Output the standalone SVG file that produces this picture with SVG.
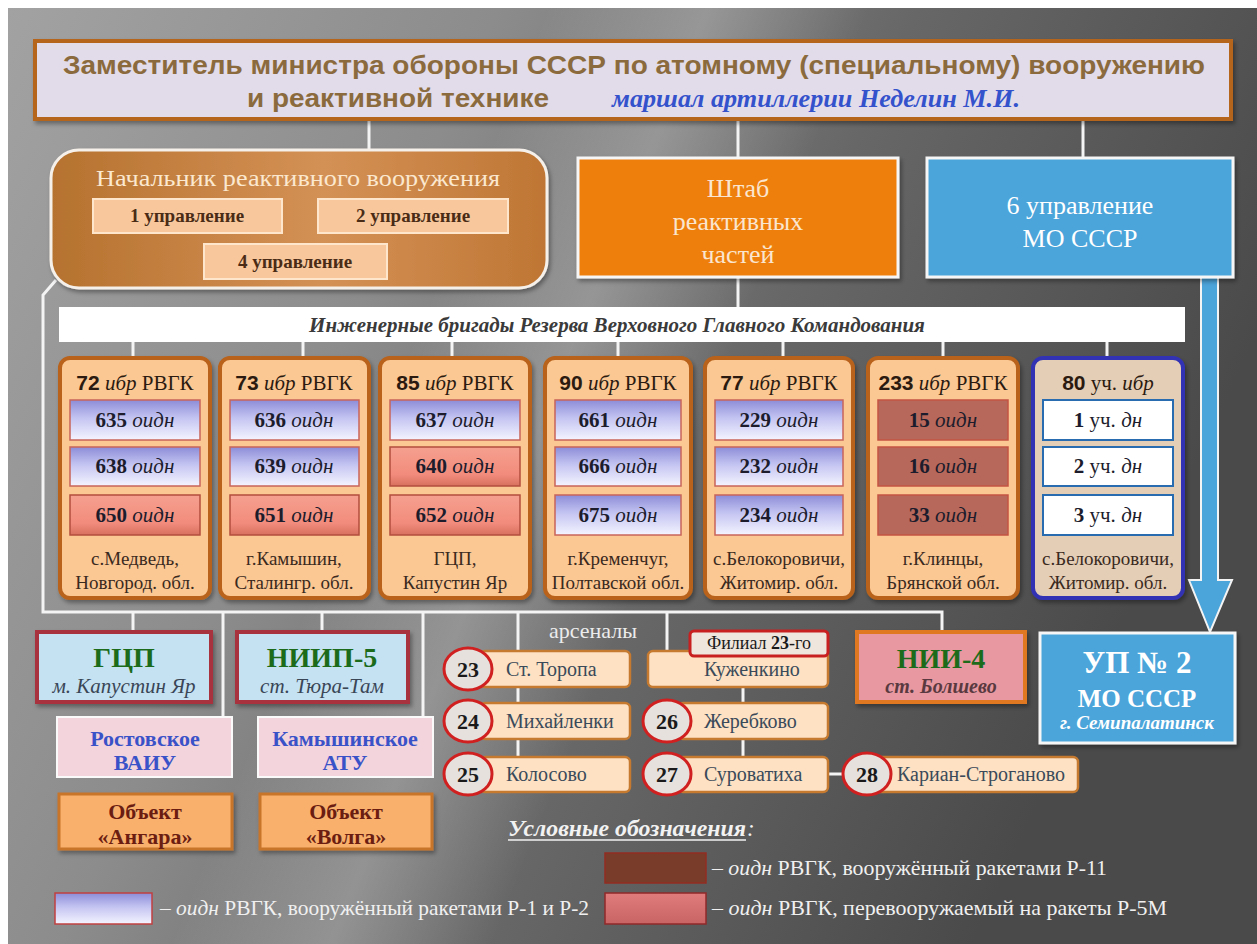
<svg xmlns="http://www.w3.org/2000/svg" width="1257" height="944" viewBox="0 0 1257 944">
<defs>
<linearGradient id="bg" x1="0" y1="0" x2="1" y2="0.35">
<stop offset="0" stop-color="#a2a2a2"/><stop offset="0.35" stop-color="#8c8c8c"/><stop offset="0.65" stop-color="#676767"/><stop offset="1" stop-color="#4a4a4a"/>
</linearGradient>
<linearGradient id="band" gradientUnits="userSpaceOnUse" x1="361" y1="469" x2="639" y2="581">
<stop offset="0" stop-color="#fff" stop-opacity="0"/><stop offset="0.5" stop-color="#fff" stop-opacity="0.22"/><stop offset="1" stop-color="#fff" stop-opacity="0"/>
</linearGradient>
<linearGradient id="gBrown" x1="0" y1="0" x2="1" y2="0">
<stop offset="0" stop-color="#b5722f"/><stop offset="0.55" stop-color="#d49155"/><stop offset="1" stop-color="#bf7634"/>
</linearGradient>
<linearGradient id="gBlue" x1="0" y1="0" x2="0" y2="1">
<stop offset="0" stop-color="#8c8cd8"/><stop offset="0.45" stop-color="#c4c4f2"/><stop offset="1" stop-color="#f4f4ff"/>
</linearGradient>
<linearGradient id="gSalmon" x1="0" y1="0" x2="0" y2="1">
<stop offset="0" stop-color="#f6a090"/><stop offset="0.7" stop-color="#f28c7c"/><stop offset="1" stop-color="#d8705e"/>
</linearGradient>
<linearGradient id="gLegS" x1="0" y1="0" x2="0" y2="1">
<stop offset="0" stop-color="#e07c7c"/><stop offset="1" stop-color="#c86464"/>
</linearGradient>
<filter id="sh" x="-10%" y="-10%" width="125%" height="135%">
<feDropShadow dx="2" dy="3" stdDeviation="2" flood-color="#000" flood-opacity="0.35"/>
</filter>
<style>
.ln{stroke:#f4f4f4;stroke-width:3;fill:none}
.serif{font-family:"Liberation Serif","DejaVu Serif",serif}
.sans{font-family:"Liberation Sans","DejaVu Sans",sans-serif}
.b{font-weight:bold}
.i{font-style:italic}
.n{font-weight:normal;font-style:normal}
.brig{fill:#fbc793;stroke:#b8621a;stroke-width:4}
.brig80{fill:#e4ceb6;stroke:#3232b4;stroke-width:4}
.sb{fill:url(#gBlue);stroke:#c8645a;stroke-width:1.5}
.ss{fill:url(#gSalmon);stroke:#b24e3e;stroke-width:1.5}
.sd{fill:#b8685a;stroke:#c45444;stroke-width:1.5}
.sw{fill:#fff;stroke:#2a6cb0;stroke-width:2}
.tt{font-size:21px;fill:#2a1a10;text-anchor:middle}
.ts{font-size:21px;fill:#1c1c2c;text-anchor:middle}
.tl{font-size:19px;fill:#3a2a1e;text-anchor:middle}
.upr{fill:#f8c89c;stroke:#fde6cc;stroke-width:2}
.tupr{font-size:19px;font-weight:bold;fill:#4a2c16;text-anchor:middle}
.arb{fill:#fde1c2;stroke:#c67a30;stroke-width:2.5}
.arc{fill:#e6e1dc;stroke:#d02020;stroke-width:3}
.arn{font-size:22px;font-weight:bold;fill:#1a1a1a;text-anchor:middle}
.art{font-size:20px;fill:#3a4a5a}
.leg{font-size:21px;fill:#f0f0f0}
</style>
</defs>

<rect x="0" y="0" width="1257" height="944" fill="#fff"/>
<rect x="8" y="8" width="1249" height="936" fill="url(#bg)"/>
<rect x="8" y="8" width="1249" height="936" fill="url(#band)"/>

<g id="connectors">
<path class="ln" d="M369 119 V150 M738 119 V158 M1083 119 V158 M738 277 V307"/>
<path class="ln" d="M133 342 V358 M303 342 V358 M452 342 V358 M618 342 V358 M783 342 V358 M943 342 V358 M1107 342 V358"/>
<path class="ln" d="M56 280 L43 295 V612 H942 V632"/>
<path class="ln" d="M133 612 V632 M223 612 V717 M322 612 V632 M423 612 V717 M518 612 V757 M667 612 V651 M743 687 V757 M828 774 H845"/>
<path d="M1201 277 V580 H1189 L1210 632 L1232 580 H1218 V277" fill="#4ba4da" stroke="#f4f4f4" stroke-width="2"/>
</g>

<g id="header">
<rect x="35" y="41" width="1196" height="78" fill="#e2dcea" stroke="#b5651d" stroke-width="4" filter="url(#sh)"/>
<text class="sans b" x="634" y="74" font-size="26" fill="#8b6b3d" text-anchor="middle" textLength="1142" lengthAdjust="spacingAndGlyphs">Заместитель министра обороны СССР по атомному (специальному) вооружению</text>
<text class="sans b" x="247" y="107" font-size="26" fill="#8b6b3d" textLength="302" lengthAdjust="spacingAndGlyphs">и реактивной технике</text>
<text class="serif b i" x="612" y="107" font-size="25" fill="#3452cc" textLength="408" lengthAdjust="spacingAndGlyphs">маршал артиллерии Неделин М.И.</text>
</g>

<g id="nach">
<rect x="51" y="150" width="496" height="138" rx="28" fill="url(#gBrown)" stroke="#f6f0ea" stroke-width="3" filter="url(#sh)"/>
<text class="serif" x="298" y="186" font-size="24" fill="#fbe8cf" text-anchor="middle" textLength="404" lengthAdjust="spacingAndGlyphs">Начальник реактивного вооружения</text>
<rect class="upr" x="93" y="199" width="189" height="34"/>
<text class="serif tupr" x="187" y="222">1 управление</text>
<rect class="upr" x="318" y="199" width="190" height="34"/>
<text class="serif tupr" x="413" y="222">2 управление</text>
<rect class="upr" x="204" y="244" width="183" height="35"/>
<text class="serif tupr" x="295" y="268">4 управление</text>
</g>

<g id="shtab">
<rect x="578" y="158" width="320" height="119" fill="#ef7f0e" stroke="#f6f6f6" stroke-width="3" filter="url(#sh)"/>
<text class="serif" font-size="26" fill="#fae6d0" text-anchor="middle"><tspan x="738" y="197">Штаб</tspan><tspan x="738" y="230">реактивных</tspan><tspan x="738" y="263">частей</tspan></text>
</g>

<g id="upr6">
<rect x="927" y="158" width="306" height="119" fill="#4ba4da" stroke="#f6f6f6" stroke-width="3" filter="url(#sh)"/>
<text class="serif" font-size="26" fill="#fff" text-anchor="middle"><tspan x="1080" y="214">6 управление</tspan><tspan x="1080" y="247">МО СССР</tspan></text>
</g>

<g id="ibr-bar">
<rect x="59" y="307" width="1126" height="35" fill="#fff"/>
<text class="serif b i" x="617" y="332" font-size="21" fill="#3a3a3a" text-anchor="middle">Инженерные бригады Резерва Верховного Главного Командования</text>
</g>

<g id="ibr72">
<rect class="brig" x="60" y="358" width="150" height="240" rx="10" filter="url(#sh)"/>
<text class="serif tt" x="135" y="390"><tspan class="sans b">72</tspan> <tspan class="i">ибр</tspan> РВГК</text>
<rect class="sb" x="70" y="400" width="130" height="40"/><text class="serif ts" x="135" y="427"><tspan class="b">635</tspan> <tspan class="i">оидн</tspan></text>
<rect class="sb" x="70" y="447" width="130" height="39"/><text class="serif ts" x="135" y="473"><tspan class="b">638</tspan> <tspan class="i">оидн</tspan></text>
<rect class="ss" x="70" y="495" width="130" height="40"/><text class="serif ts" x="135" y="522"><tspan class="b">650</tspan> <tspan class="i">оидн</tspan></text>
<text class="serif tl"><tspan x="135" y="565">с.Медведь,</tspan><tspan x="135" y="589">Новгород. обл.</tspan></text>
</g>

<g id="ibr73">
<rect class="brig" x="220" y="358" width="149" height="240" rx="10" filter="url(#sh)"/>
<text class="serif tt" x="294" y="390"><tspan class="sans b">73</tspan> <tspan class="i">ибр</tspan> РВГК</text>
<rect class="sb" x="230" y="400" width="129" height="40"/><text class="serif ts" x="294" y="427"><tspan class="b">636</tspan> <tspan class="i">оидн</tspan></text>
<rect class="sb" x="230" y="447" width="129" height="39"/><text class="serif ts" x="294" y="473"><tspan class="b">639</tspan> <tspan class="i">оидн</tspan></text>
<rect class="ss" x="230" y="495" width="129" height="40"/><text class="serif ts" x="294" y="522"><tspan class="b">651</tspan> <tspan class="i">оидн</tspan></text>
<text class="serif tl"><tspan x="294" y="565">г.Камышин,</tspan><tspan x="294" y="589">Сталингр. обл.</tspan></text>
</g>

<g id="ibr85">
<rect class="brig" x="380" y="358" width="150" height="240" rx="10" filter="url(#sh)"/>
<text class="serif tt" x="455" y="390"><tspan class="sans b">85</tspan> <tspan class="i">ибр</tspan> РВГК</text>
<rect class="sb" x="390" y="400" width="130" height="40"/><text class="serif ts" x="455" y="427"><tspan class="b">637</tspan> <tspan class="i">оидн</tspan></text>
<rect class="ss" x="390" y="447" width="130" height="39"/><text class="serif ts" x="455" y="473"><tspan class="b">640</tspan> <tspan class="i">оидн</tspan></text>
<rect class="ss" x="390" y="495" width="130" height="40"/><text class="serif ts" x="455" y="522"><tspan class="b">652</tspan> <tspan class="i">оидн</tspan></text>
<text class="serif tl"><tspan x="455" y="565">ГЦП,</tspan><tspan x="455" y="589">Капустин Яр</tspan></text>
</g>

<g id="ibr90">
<rect class="brig" x="545" y="358" width="146" height="240" rx="10" filter="url(#sh)"/>
<text class="serif tt" x="618" y="390"><tspan class="sans b">90</tspan> <tspan class="i">ибр</tspan> РВГК</text>
<rect class="sb" x="555" y="400" width="126" height="40"/><text class="serif ts" x="618" y="427"><tspan class="b">661</tspan> <tspan class="i">оидн</tspan></text>
<rect class="sb" x="555" y="447" width="126" height="39"/><text class="serif ts" x="618" y="473"><tspan class="b">666</tspan> <tspan class="i">оидн</tspan></text>
<rect class="sb" x="555" y="495" width="126" height="40"/><text class="serif ts" x="618" y="522"><tspan class="b">675</tspan> <tspan class="i">оидн</tspan></text>
<text class="serif tl"><tspan x="618" y="565">г.Кременчуг,</tspan><tspan x="618" y="589">Полтавской обл.</tspan></text>
</g>

<g id="ibr77">
<rect class="brig" x="705" y="358" width="148" height="240" rx="10" filter="url(#sh)"/>
<text class="serif tt" x="779" y="390"><tspan class="sans b">77</tspan> <tspan class="i">ибр</tspan> РВГК</text>
<rect class="sb" x="715" y="400" width="128" height="40"/><text class="serif ts" x="779" y="427"><tspan class="b">229</tspan> <tspan class="i">оидн</tspan></text>
<rect class="sb" x="715" y="447" width="128" height="39"/><text class="serif ts" x="779" y="473"><tspan class="b">232</tspan> <tspan class="i">оидн</tspan></text>
<rect class="sb" x="715" y="495" width="128" height="40"/><text class="serif ts" x="779" y="522"><tspan class="b">234</tspan> <tspan class="i">оидн</tspan></text>
<text class="serif tl"><tspan x="779" y="565">с.Белокоровичи,</tspan><tspan x="779" y="589">Житомир. обл.</tspan></text>
</g>

<g id="ibr233">
<rect class="brig" x="868" y="358" width="150" height="240" rx="10" filter="url(#sh)"/>
<text class="serif tt" x="943" y="390"><tspan class="sans b">233</tspan> <tspan class="i">ибр</tspan> РВГК</text>
<rect class="sd" x="878" y="400" width="130" height="40"/><text class="serif ts" x="943" y="427"><tspan class="b">15</tspan> <tspan class="i">оидн</tspan></text>
<rect class="sd" x="878" y="447" width="130" height="39"/><text class="serif ts" x="943" y="473"><tspan class="b">16</tspan> <tspan class="i">оидн</tspan></text>
<rect class="sd" x="878" y="495" width="130" height="40"/><text class="serif ts" x="943" y="522"><tspan class="b">33</tspan> <tspan class="i">оидн</tspan></text>
<text class="serif tl"><tspan x="943" y="565">г.Клинцы,</tspan><tspan x="943" y="589">Брянской обл.</tspan></text>
</g>

<g id="ibr80">
<rect class="brig80" x="1033" y="358" width="150" height="240" rx="10" filter="url(#sh)"/>
<text class="serif tt" x="1108" y="390"><tspan class="sans b">80</tspan> уч. <tspan class="i">ибр</tspan></text>
<rect class="sw" x="1043" y="400" width="130" height="40"/><text class="serif ts" x="1108" y="427"><tspan class="b">1</tspan> уч. <tspan class="i">дн</tspan></text>
<rect class="sw" x="1043" y="447" width="130" height="39"/><text class="serif ts" x="1108" y="473"><tspan class="b">2</tspan> уч. <tspan class="i">дн</tspan></text>
<rect class="sw" x="1043" y="495" width="130" height="40"/><text class="serif ts" x="1108" y="522"><tspan class="b">3</tspan> уч. <tspan class="i">дн</tspan></text>
<text class="serif tl"><tspan x="1108" y="565">с.Белокоровичи,</tspan><tspan x="1108" y="589">Житомир. обл.</tspan></text>
</g>

<g id="gcp">
<rect x="37" y="632" width="174" height="70" fill="#c4e2f2" stroke="#a8323c" stroke-width="4" filter="url(#sh)"/>
<text class="serif b" x="124" y="667" font-size="28" fill="#1b6b1b" text-anchor="middle">ГЦП</text>
<text class="serif i" x="124" y="693" font-size="21" fill="#3a4656" text-anchor="middle">м. Капустин Яр</text>
</g>

<g id="niip5">
<rect x="237" y="632" width="171" height="70" fill="#c4e2f2" stroke="#a8323c" stroke-width="4" filter="url(#sh)"/>
<text class="serif b" x="322" y="667" font-size="28" fill="#1b6b1b" text-anchor="middle">НИИП-5</text>
<text class="serif i" x="322" y="693" font-size="21" fill="#3a4656" text-anchor="middle">ст. Тюра-Там</text>
</g>

<g id="rostov">
<rect x="57" y="717" width="175" height="60" fill="#f3d3dc" stroke="#fafafa" stroke-width="2"/>
<text class="serif b" font-size="22" fill="#3a52c8" text-anchor="middle"><tspan x="145" y="746">Ростовское</tspan><tspan x="145" y="770">ВАИУ</tspan></text>
</g>

<g id="kamysh">
<rect x="258" y="717" width="175" height="60" fill="#f3d3dc" stroke="#fafafa" stroke-width="2"/>
<text class="serif b" font-size="22" fill="#3a52c8" text-anchor="middle"><tspan x="345" y="746">Камышинское</tspan><tspan x="345" y="770">АТУ</tspan></text>
</g>

<g id="angara">
<rect x="59" y="794" width="173" height="55" fill="#f8b06c" stroke="#c8742c" stroke-width="3" filter="url(#sh)"/>
<text class="serif b" font-size="22" fill="#6b1d12" text-anchor="middle"><tspan x="145" y="819">Объект</tspan><tspan x="145" y="844">«Ангара»</tspan></text>
</g>

<g id="volga">
<rect x="260" y="794" width="172" height="55" fill="#f8b06c" stroke="#c8742c" stroke-width="3" filter="url(#sh)"/>
<text class="serif b" font-size="22" fill="#6b1d12" text-anchor="middle"><tspan x="346" y="819">Объект</tspan><tspan x="346" y="844">«Волга»</tspan></text>
</g>

<g id="arsenaly">
<text class="serif" x="593" y="638" font-size="22" fill="#ececec" text-anchor="middle">арсеналы</text>
</g>

<g id="ars23">
<rect class="arb" x="480" y="651" width="150" height="36" rx="5"/>
<ellipse class="arc" cx="468" cy="669" rx="24" ry="21"/>
<text class="serif arn" x="468" y="677">23</text>
<text class="serif art" x="506" y="676">Ст. Торопа</text>
</g>
<g id="ars24">
<rect class="arb" x="480" y="703" width="150" height="36" rx="5"/>
<ellipse class="arc" cx="468" cy="721" rx="24" ry="21"/>
<text class="serif arn" x="468" y="729">24</text>
<text class="serif art" x="506" y="728">Михайленки</text>
</g>
<g id="ars25">
<rect class="arb" x="480" y="757" width="150" height="35" rx="5"/>
<ellipse class="arc" cx="468" cy="774" rx="24" ry="21"/>
<text class="serif arn" x="468" y="782">25</text>
<text class="serif art" x="506" y="781">Колосово</text>
</g>
<g id="kuzhenkino">
<rect class="arb" x="648" y="651" width="180" height="36" rx="5"/>
<text class="serif art" x="704" y="676">Куженкино</text>
<rect x="690" y="631" width="138" height="25" rx="4" fill="#efe6de" stroke="#c82020" stroke-width="3"/>
<text class="serif" x="759" y="649" font-size="18" fill="#1a1a1a" text-anchor="middle">Филиал <tspan class="b">23</tspan>-го</text>
</g>
<g id="ars26">
<rect class="arb" x="678" y="703" width="150" height="36" rx="5"/>
<ellipse class="arc" cx="667" cy="721" rx="24" ry="21"/>
<text class="serif arn" x="667" y="729">26</text>
<text class="serif art" x="704" y="728">Жеребково</text>
</g>
<g id="ars27">
<rect class="arb" x="678" y="757" width="150" height="35" rx="5"/>
<ellipse class="arc" cx="667" cy="774" rx="24" ry="21"/>
<text class="serif arn" x="667" y="782">27</text>
<text class="serif art" x="704" y="781">Суроватиха</text>
</g>
<g id="ars28">
<rect class="arb" x="870" y="757" width="208" height="35" rx="5"/>
<ellipse class="arc" cx="867" cy="774" rx="24" ry="21"/>
<text class="serif arn" x="867" y="782">28</text>
<text class="serif art" x="897" y="781">Кариан-Строганово</text>
</g>

<g id="nii4">
<rect x="857" y="632" width="168" height="70" fill="#e898a0" stroke="#e07820" stroke-width="4" filter="url(#sh)"/>
<text class="serif b" x="941" y="668" font-size="28" fill="#1b6b1b" text-anchor="middle">НИИ-4</text>
<text class="serif b i" x="941" y="693" font-size="20" fill="#5a3a40" text-anchor="middle">ст. Болшево</text>
</g>

<g id="up2">
<rect x="1040" y="633" width="195" height="110" fill="#4ba4da" stroke="#f6f6f6" stroke-width="3" filter="url(#sh)"/>
<text class="serif b" x="1137" y="673" font-size="31" fill="#fff" text-anchor="middle">УП № 2</text>
<text class="serif b" x="1137" y="707" font-size="25" fill="#fff" text-anchor="middle">МО СССР</text>
<text class="serif b i" x="1137" y="729" font-size="19" fill="#fff" text-anchor="middle">г. Семипалатинск</text>
</g>

<g id="legend">
<text class="serif b i" x="508" y="836" font-size="23" fill="#f2f2f2" textLength="238" lengthAdjust="spacingAndGlyphs">Условные обозначения</text>
<text class="serif i" x="747" y="836" font-size="23" fill="#f2f2f2">:</text>
<line x1="508" y1="840" x2="746" y2="840" stroke="#f2f2f2" stroke-width="1.5"/>
<rect x="605" y="853" width="101" height="30" fill="#7a3c2a" stroke="#922c22" stroke-width="1.5"/>
<text class="serif leg" x="712" y="875" textLength="395" lengthAdjust="spacingAndGlyphs">– <tspan class="i">оидн</tspan> РВГК, вооружённый  ракетами  Р-11</text>
<rect x="605" y="893" width="101" height="31" fill="url(#gLegS)" stroke="#902a2a" stroke-width="1.5"/>
<text class="serif leg" x="712" y="915" textLength="455" lengthAdjust="spacingAndGlyphs">– <tspan class="i">оидн</tspan> РВГК, перевооружаемый  на ракеты  Р-5М</text>
<rect x="55" y="893" width="97" height="31" fill="url(#gBlue)" stroke="#c04040" stroke-width="1.5"/>
<text class="serif leg" x="160" y="915" textLength="429" lengthAdjust="spacingAndGlyphs">– <tspan class="i">оидн</tspan> РВГК, вооружённый  ракетами Р-1 и Р-2</text>
</g>
</svg>
